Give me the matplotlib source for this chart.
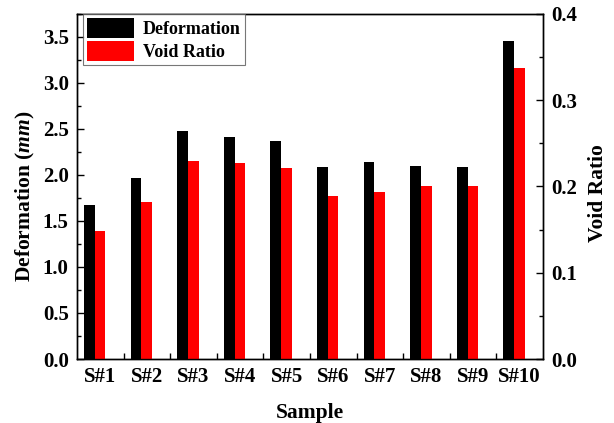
import numpy as np
import matplotlib
matplotlib.use('Agg')
import matplotlib.pyplot as plt
from matplotlib.ticker import MultipleLocator, FixedLocator, FormatStrFormatter

samples = ['S#1', 'S#2', 'S#3', 'S#4', 'S#5', 'S#6', 'S#7', 'S#8', 'S#9', 'S#10']
deformation = [1.67, 1.97, 2.48, 2.41, 2.37, 2.09, 2.14, 2.10, 2.09, 3.46]
void_ratio = [0.148, 0.182, 0.230, 0.227, 0.222, 0.189, 0.194, 0.200, 0.201, 0.337]

plt.rcParams['font.family'] = 'Liberation Serif'
plt.rcParams['font.weight'] = 'bold'
plt.rcParams['mathtext.fontset'] = 'custom'
plt.rcParams['mathtext.it'] = 'Liberation Serif:italic:bold'
plt.rcParams['mathtext.rm'] = 'Liberation Serif:bold'

x = np.arange(1, len(samples) + 1)
w = 0.23

fig = plt.figure(figsize=(6.14, 4.23), dpi=100)
ax = fig.add_axes([0.1254, 0.1513, 0.7590, 0.8157])
ax2 = ax.twinx()

# black bar ends and red bar starts just left of each category centre
b1 = ax.bar(x - 0.12, deformation, width=-w, align='edge', color='black',
            label='Deformation')
b2 = ax2.bar(x - 0.12, void_ratio, width=w, align='edge', color='#ff0000',
             label='Void Ratio')

ax.set_xlim(0.5, 10.5)
ax.set_ylim(0, 3.75)
ax2.set_ylim(0, 0.4)

ax.set_xticks(x)
ax.set_xticklabels(samples)
ax.xaxis.set_minor_locator(FixedLocator(np.arange(1.5, 10.5, 1)))
ax.tick_params(axis='x', which='major', length=0, labelsize=15, pad=6)
ax.tick_params(axis='x', which='minor', direction='in', length=4, width=1)

ax.yaxis.set_major_locator(MultipleLocator(0.5))
ax.yaxis.set_minor_locator(MultipleLocator(0.25))
ax.tick_params(axis='y', which='both', direction='in', width=1, labelsize=15, pad=6)
ax.tick_params(axis='y', which='major', length=5)
ax.tick_params(axis='y', which='minor', length=3)
ax.yaxis.set_major_formatter(FormatStrFormatter('%.1f'))

ax2.yaxis.set_major_locator(MultipleLocator(0.1))
ax2.yaxis.set_minor_locator(MultipleLocator(0.05))
ax2.tick_params(axis='y', which='both', direction='in', width=1, labelsize=15, pad=6)
ax2.tick_params(axis='y', which='major', length=5)
ax2.tick_params(axis='y', which='minor', length=3)
ax2.yaxis.set_major_formatter(FormatStrFormatter('%.1f'))

for a in [ax, ax2]:
    for s in a.spines.values():
        s.set_linewidth(1.0)

ax.set_xlabel('Sample', fontsize=15.5, fontweight='bold', labelpad=11)
ax.set_ylabel('Deformation ($mm$)', fontsize=15.5, fontweight='bold')
ax2.set_ylabel('Void Ratio', fontsize=15.5, fontweight='bold')
ax.yaxis.set_label_coords(-0.085, 0.47)
ax2.yaxis.set_label_coords(1.097, 0.48)

leg = ax2.legend([b1, b2], ['Deformation', 'Void Ratio'], loc='upper left',
                 bbox_to_anchor=(0.012, 1.0), frameon=True,
                 fancybox=False, borderaxespad=0, handlelength=2.6,
                 handleheight=1.3, handletextpad=0.5, borderpad=0.25,
                 labelspacing=0.15, prop={'weight': 'bold', 'size': 13})
leg.get_frame().set_edgecolor('#555555')
leg.get_frame().set_linewidth(0.8)

fig.savefig('out.png', dpi=100)
